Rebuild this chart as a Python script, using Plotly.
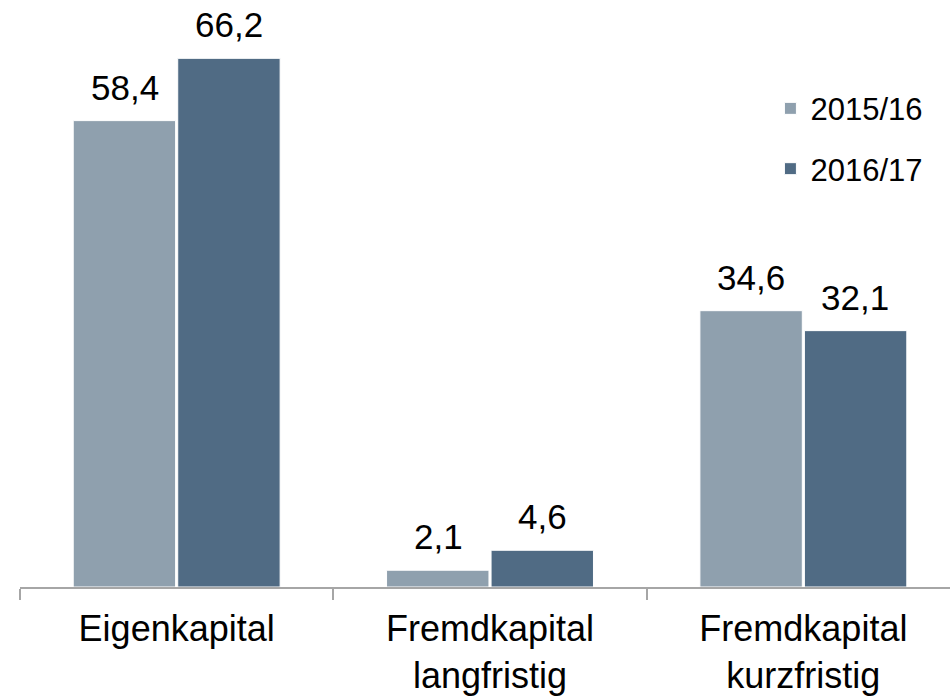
import plotly.graph_objects as go

categories = ["Eigenkapital", "Fremdkapital<br>langfristig", "Fremdkapital<br>kurzfristig"]
series_names = ["2015/16", "2016/17"]
values_2015 = [58.4, 2.1, 34.6]
values_2016 = [66.2, 4.6, 32.1]
colors = ["#8fa0ae", "#506b84"]

all_values = [values_2015, values_2016]

fig = go.Figure()
for i, (name, vals) in enumerate(zip(series_names, all_values)):
    fig.add_trace(go.Bar(
        x=categories, y=vals, name=name,
        marker=dict(color=colors[i], line=dict(color="white", width=1)),
        legendgroup=name,
        hoverinfo="skip",
    ))

annotations = []
for i, vals in enumerate(all_values):
    shift = -52 if i == 0 else 52
    for c, v in zip(categories, vals):
        annotations.append(dict(
            x=c, y=v, xref="x", yref="y", xshift=shift, yshift=12,
            text=f"{v:.1f}".replace(".", ","), showarrow=False,
            yanchor="bottom", xanchor="center",
            font=dict(size=35, color="black", family="Liberation Sans, Arial, sans-serif"),
        ))

fig.update_layout(
    width=950, height=698,
    margin=dict(l=20, r=0, t=10, b=111),
    paper_bgcolor="white", plot_bgcolor="white",
    barmode="group", bargap=0.333, bargroupgap=0.02,
    font=dict(family="Liberation Sans, Arial, sans-serif", color="black"),
    showlegend=True,
    legend=dict(
        x=0.8069, y=0.8757, xanchor="left", yanchor="top",
        font=dict(size=31, color="black"),
        tracegroupgap=17, bgcolor="rgba(0,0,0,0)",
    ),
    xaxis=dict(
        range=[-0.5, 2.468], showline=True, linecolor="#a6a6a6", linewidth=1.5,
        ticks="outside", tickson="boundaries", ticklen=11, tickcolor="#a6a6a6", tickwidth=1.5,
        tickfont=dict(size=36, color="black"), showgrid=False, zeroline=False,
        ticklabelstandoff=9,
    ),
    yaxis=dict(range=[0, 72.25], visible=False, showgrid=False, zeroline=False),
    annotations=annotations,
)

fig.write_html(
    "out.html",
    config={"displayModeBar": False},
    post_script="document.body.style.margin='0';document.body.style.overflow='hidden';",
)
